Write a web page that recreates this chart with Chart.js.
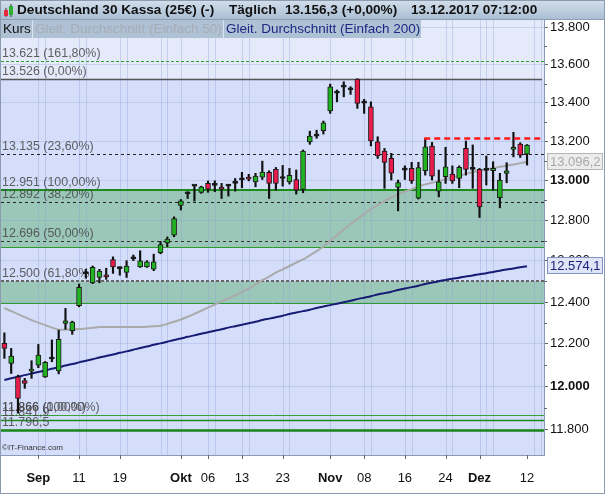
<!DOCTYPE html>
<html lang="de">
<head>
<meta charset="UTF-8">
<title>Deutschland 30 Kassa - Täglich</title>
<script src="https://cdn.jsdelivr.net/npm/chart.js"></script>
<style>
  body { margin: 0; background: #fff; }
  canvas { display: block; }
</style>
</head>
<body>
<canvas id="dax" width="605" height="494"></canvas>
<script>
// trading days 25.08.-14.12.2017 (last two slots stay empty)
const days = ['25.08','28.08','29.08','30.08','31.08',
  '01.09','04.09','05.09','06.09','07.09','08.09','11.09','12.09','13.09','14.09','15.09',
  '18.09','19.09','20.09','21.09','22.09','25.09','26.09','27.09','28.09','29.09',
  '02.10','03.10','04.10','05.10','06.10','09.10','10.10','11.10','12.10','13.10',
  '16.10','17.10','18.10','19.10','20.10','23.10','24.10','25.10','26.10','27.10','30.10','31.10',
  '01.11','02.11','03.11','06.11','07.11','08.11','09.11','10.11','13.11','14.11','15.11','16.11','17.11',
  '20.11','21.11','22.11','23.11','24.11','27.11','28.11','29.11','30.11',
  '01.12','04.12','05.12','06.12','07.12','08.12','11.12','12.12','13.12','14.12'];

const opens = [12202,12107,12044,12027,12071,12099,12044,12128,12072,12297,
  12262,12382,12537,12493,12519,12530,12607,12562,12544,12610,
  12571,12571,12559,12640,12688,12727,12875,12934,12972,12941,
  12986,12976,12967,12972,12986,13004,13018,12994,13018,13042,
  13057,13015,12994,13006,12956,13198,13227,13255,13358,13450,
  13482,13468,13524,13398,13379,13198,13150,13113,12966,13053,
  13062,12912,13050,13176,12947,13020,13033,13011,13164,13061,
  13057,13052,13050,12914,13037,13159,13186,13135];
const highs = [12252,12178,12052,12037,12120,12197,12116,12218,12265,12369,
  12308,12487,12559,12575,12559,12564,12620,12571,12601,12629,
  12650,12601,12633,12696,12718,12818,12905,12944,12976,12972,
  12998,12999,12986,12981,13011,13042,13032,13037,13099,13050,
  13067,13077,13062,13054,13156,13253,13258,13305,13498,13467,
  13510,13484,13526,13418,13405,13224,13164,13139,13003,13075,
  13093,13093,13215,13195,13054,13170,13075,13075,13202,13182,
  13062,13125,13096,13037,13091,13247,13193,13184];
const lows = [12131,12060,11875,11990,12037,12087,12041,12115,12058,12269,
  12245,12377,12515,12489,12493,12510,12539,12530,12519,12601,
  12568,12568,12552,12635,12670,12719,12852,12910,12897,12936,
  12941,12944,12910,12922,12947,12964,12999,12969,13006,12910,
  12952,12972,12983,12932,12939,13185,13216,13238,13345,13405,
  13431,13444,13371,13345,13177,13113,12961,13003,12848,13006,
  12986,12907,13028,13003,12918,12986,12986,12964,13028,12961,
  12815,12978,12952,12863,12989,13121,13118,13079];
const closes = [12178,12142,11943,12013,12078,12146,12112,12133,12221,12310,
  12304,12471,12541,12568,12550,12522,12571,12566,12575,12614,
  12601,12596,12596,12680,12707,12810,12898,12938,12975,12969,
  12957,12980,12957,12975,12991,13008,13008,13023,13043,12986,
  12986,13011,13027,12952,13150,13227,13231,13296,13484,13454,
  13486,13472,13397,13402,13202,13126,13093,13038,12990,13057,
  12998,13066,13172,13023,12994,13070,12999,13067,13057,13057,
  12868,13056,13062,13003,13050,13169,13130,13181];

// Gleitender Durchschnitt 50 / 200
const ma50 = [12371,12356,12342,12327,12313,12301,12289,12277,12267,12268,
  12268,12270,12273,12276,12280,12280,12280,12280,12280,12280,
  12280,12281,12283,12286,12295,12305,12316,12329,12343,12358,
  12373,12388,12403,12417,12432,12448,12465,12485,12506,12523,
  12543,12559,12575,12592,12607,12627,12648,12671,12700,12727,
  12755,12782,12807,12832,12857,12877,12897,12915,12930,12945,
  12957,12971,12981,12989,12998,13007,13016,13025,13034,13044,
  13050,13057,13063,13070,13076,13082,13089,13096.2];
const ma200 = [12029,12037,12044,12052,12059,12067,12074,12082,12089,12097,
  12104,12112,12120,12127,12135,12142,12149,12157,12164,12172,
  12180,12187,12195,12202,12210,12218,12225,12233,12240,12248,
  12255,12262,12269,12277,12284,12291,12298,12305,12313,12320,
  12327,12334,12342,12349,12356,12363,12371,12378,12385,12392,
  12399,12406,12414,12421,12428,12436,12443,12450,12458,12465,
  12472,12479,12487,12494,12501,12507,12513,12518,12524,12529,
  12535,12540,12546,12552,12558,12563,12569,12574.1];

// y axis
const yTicks = [11800,12000,12200,12400,12600,12800,13000,13200,13400,13600,13800];
const yBold = [12000,13000];
const yMin = 11683, yMax = 13839;

// x axis labels
const xTickDays = ['01.09','11.09','19.09','02.10','06.10','13.10','23.10','01.11','08.11','16.11','24.11','01.12','12.12'];
const xTickText = ['Sep','11','19','Okt','06','13','23','Nov','08','16','24','Dez','12'];
const gridDays = ['01.09','04.09','11.09','12.09','19.09','20.09','27.09','28.09','02.10','06.10','09.10',
  '13.10','16.10','23.10','24.10','01.11','08.11','09.11','16.11','17.11','24.11','27.11',
  '01.12','04.12','05.12','13.12','14.12'];

// Fibonacci / Linien
const levelVals = [13621, 13526, 13135, 12951, 12892, 12696, 12666, 12500, 12393, 11866, 11842, 11796.5];
const levelText = ['13.621 (161,80%)','13.526 (0,00%)','13.135 (23,60%)','12.951 (100,00%)','12.892 (38,20%)',
  '12.696 (50,00%)','','12.500 (61,80%)','','11.866 (0,00%)','11.841,9','11.796,5'];
const extraText = [[11866, '11.866 (100,00%)']];
const zoneTop = [12951, 12500];
const zoneBottom = [12666, 12393];
const resistVal = 13215, resistFrom = '21.11';

const header = ['Deutschland 30 Kassa (25€) (-)', 'Täglich', '13.156,3 (+0,00%)', '13.12.2017 07:12:00'];
const legendText = ['Kurs', 'Gleit. Durchschnitt (Einfach 50)', 'Gleit. Durchschnitt (Einfach 200)'];

// ---- styles ----
const FONT = '"Liberation Sans", Arial, sans-serif';
const levelStyle = [
  ['#2e9e2e', 1, [3, 2]], ['#555', 1.5, []], ['#222', 1, [3, 3]], ['#1d8c1d', 2, []],
  ['#222', 1, [3, 3]], ['#333', 1, [3, 3]], ['#2f9a2f', 1, []], ['#666', 2, [3, 2]],
  ['#2f9a2f', 1, []], ['#3aa03a', 1, []], ['#1d8c1d', 1.5, []], ['#1a861a', 2.5, []]
];

function fmtThousand(v, dec) {
  const s = v.toFixed(dec);
  const parts = s.split('.');
  const int = parts[0];
  const withDots = int.length > 3 ? int.slice(0, int.length - 3) + '.' + int.slice(-3) : int;
  return dec ? withDots + ',' + parts[1] : withDots;
}

const bodies = opens.map((o, i) => [Math.min(o, closes[i]), Math.max(o, closes[i])]);
const wicks = lows.map((l, i) => [l, highs[i]]);
const bodyColor = opens.map((o, i) => Math.abs(closes[i] - o) <= 5 ? '#111'
  : (closes[i] > o ? 'rgb(34,178,34)' : 'rgb(234,26,76)'));

const chartDeco = {
  id: 'chartDeco',
  beforeDraw(chart) {
    const ctx = chart.ctx, a = chart.chartArea, ys = chart.scales.y, xs = chart.scales.x;
    const Y = v => ys.getPixelForValue(v);
    ctx.save();
    ctx.fillStyle = '#fff';
    ctx.fillRect(0, 0, chart.width, chart.height);
    ctx.fillStyle = 'rgb(212,222,250)';
    ctx.fillRect(a.left, a.top, a.width, a.height);
    ctx.fillStyle = 'rgb(229,234,250)';
    ctx.fillRect(a.left, a.top, a.width, Y(13526) - a.top);
    ctx.fillStyle = 'rgb(155,199,184)';
    zoneTop.forEach((t, i) => ctx.fillRect(a.left, Y(t), a.width, Y(zoneBottom[i]) - Y(t)));
    // vertical grid
    ctx.strokeStyle = 'rgba(140,158,210,0.35)';
    ctx.lineWidth = 1;
    gridDays.forEach(d => {
      const px = Math.round(xs.getPixelForValue(days.indexOf(d))) + 0.5;
      ctx.beginPath(); ctx.moveTo(px, a.top); ctx.lineTo(px, a.bottom); ctx.stroke();
    });
    ctx.restore();
  },
  beforeDatasetsDraw(chart) {
    const ctx = chart.ctx, a = chart.chartArea, ys = chart.scales.y;
    ctx.save();
    levelVals.forEach((v, i) => {
      const [col, w, dash] = levelStyle[i];
      const py = Math.round(ys.getPixelForValue(v)) + (w % 2 ? 0.5 : 0);
      ctx.strokeStyle = col; ctx.lineWidth = w; ctx.setLineDash(dash);
      ctx.beginPath(); ctx.moveTo(a.left, py); ctx.lineTo(i === 1 ? a.right - 2 : a.right, py); ctx.stroke();
    });
    ctx.setLineDash([]);
    ctx.font = '12.4px ' + FONT;
    ctx.fillStyle = 'rgba(70,70,70,0.85)';
    ctx.textBaseline = 'alphabetic';
    levelVals.forEach((v, i) => {
      if (levelText[i]) ctx.fillText(levelText[i], a.left + 1, ys.getPixelForValue(v) - 4);
    });
    extraText.forEach(([v, t]) => ctx.fillText(t, a.left + 1, ys.getPixelForValue(v) - 4));
    ctx.restore();
  },
  afterDatasetsDraw(chart) {
    const ctx = chart.ctx, a = chart.chartArea, ys = chart.scales.y, xs = chart.scales.x;
    ctx.save();
    ctx.strokeStyle = '#ff1a1a'; ctx.lineWidth = 2.5; ctx.setLineDash([6, 4]);
    const py = ys.getPixelForValue(resistVal);
    ctx.beginPath(); ctx.moveTo(xs.getPixelForValue(days.indexOf(resistFrom)) - 1, py); ctx.lineTo(a.right - 1, py); ctx.stroke();
    ctx.restore();
  },
  afterDraw(chart) {
    const ctx = chart.ctx, a = chart.chartArea, ys = chart.scales.y, xs = chart.scales.x;
    const W = chart.width, H = chart.height;
    ctx.save();
    // minor y ticks
    ctx.strokeStyle = '#666'; ctx.lineWidth = 1;
    for (let k = 0; k < yTicks.length - 1; k++) {
      const py = Math.round(ys.getPixelForValue((yTicks[k] + yTicks[k + 1]) / 2)) + 0.5;
      ctx.beginPath(); ctx.moveTo(a.right, py); ctx.lineTo(a.right + 3, py); ctx.stroke();
    }
    // x tick marks
    xTickDays.forEach(d => {
      const px = Math.round(xs.getPixelForValue(days.indexOf(d))) + 0.5;
      ctx.beginPath(); ctx.moveTo(px, a.bottom); ctx.lineTo(px, a.bottom + 4); ctx.stroke();
    });
    // header bar
    const g = ctx.createLinearGradient(0, 0, 0, 20);
    g.addColorStop(0, '#d3dfeb'); g.addColorStop(1, '#a8bdd3');
    ctx.fillStyle = g; ctx.fillRect(0, 0, W, 20);
    ctx.strokeStyle = '#8e9fb3'; ctx.beginPath(); ctx.moveTo(0, 19.5); ctx.lineTo(W, 19.5); ctx.stroke();
    // icon
    ctx.strokeStyle = '#333'; ctx.lineWidth = 1;
    ctx.beginPath(); ctx.moveTo(6, 8); ctx.lineTo(6, 17); ctx.moveTo(11, 4); ctx.lineTo(11, 17); ctx.stroke();
    ctx.fillStyle = '#e8283c'; ctx.fillRect(4, 10, 4, 6);
    ctx.fillStyle = '#2fb12f'; ctx.fillRect(9, 6, 4, 9);
    ctx.font = 'bold 13.6px ' + FONT; ctx.fillStyle = '#111'; ctx.textBaseline = 'middle';
    const hx = [17, 229, 285, 411];
    header.forEach((t, i) => ctx.fillText(t, hx[i], 10.5));
    // legend row
    ctx.fillStyle = 'rgba(172,191,211,0.95)';
    ctx.fillRect(0, 20, 421, 18);
    ctx.strokeStyle = '#dce5ee';
    ctx.beginPath(); ctx.moveTo(32.5, 20); ctx.lineTo(32.5, 38); ctx.moveTo(223.5, 20); ctx.lineTo(223.5, 38); ctx.stroke();
    ctx.font = '13.5px ' + FONT;
    const lx = [3, 35, 226], lc = ['#111', '#a6adb5', '#1b2a82'];
    legendText.forEach((t, i) => { ctx.fillStyle = lc[i]; ctx.fillText(t, lx[i], 29.5); });
    // value boxes
    const boxes = [[ma50[ma50.length - 1], '#ececec', '#b5b5b5', '#a9a9a9'],
                   [ma200[ma200.length - 1], '#dfe5f7', '#8193c4', '#1a237e']];
    boxes.forEach(([v, bg, bd, fg]) => {
      const py = Math.round(ys.getPixelForValue(v));
      ctx.fillStyle = bg; ctx.fillRect(547.5, py - 8.5, 55, 16);
      ctx.strokeStyle = bd; ctx.strokeRect(547.5, py - 8.5, 55, 16);
      ctx.fillStyle = fg; ctx.font = '13px ' + FONT; ctx.textBaseline = 'middle';
      ctx.fillText(fmtThousand(v, 1), 550, py);
    });
    // copyright
    ctx.font = '8px ' + FONT; ctx.fillStyle = '#333'; ctx.textBaseline = 'alphabetic';
    ctx.fillText('©IT-Finance.com', a.left + 1, a.bottom - 5);
    // frame
    ctx.strokeStyle = '#8c9bb0'; ctx.lineWidth = 1;
    ctx.strokeRect(0.5, 0.5, W - 1, H - 1);
    ctx.restore();
  }
};

new Chart(document.getElementById('dax'), {
  type: 'bar',
  data: {
    labels: days,
    datasets: [
      { type: 'bar', label: 'Kurs', data: bodies, backgroundColor: bodyColor, borderColor: '#1b1b1b',
        borderWidth: 1, borderSkipped: false, barThickness: 5, minBarLength: 2, grouped: false, order: 0 },
      { type: 'bar', label: 'Docht', data: wicks, backgroundColor: '#111', borderWidth: 0,
        barThickness: 1.5, grouped: false, order: 1 },
      { type: 'line', label: legendText[1], data: ma50, borderColor: '#aaaaaa', borderWidth: 2,
        pointRadius: 0, tension: 0.3, order: 2 },
      { type: 'line', label: legendText[2], data: ma200, borderColor: '#161c74', borderWidth: 2,
        pointRadius: 0, tension: 0.3, order: 3 }
    ]
  },
  options: {
    responsive: false,
    animation: false,
    layout: { padding: { top: 20, left: 1, right: 0, bottom: 0 } },
    plugins: { legend: { display: false }, tooltip: { enabled: false } },
    scales: {
      x: {
        grid: { display: false, drawTicks: false },
        border: { display: true, color: '#8c9bb5' },
        ticks: {
          autoSkip: false, maxRotation: 0, padding: 16, color: '#111',
          callback: (v, i) => {
            const k = xTickDays.indexOf(days[i]);
            return k >= 0 ? xTickText[k] : '';
          },
          font: (c) => {
            const k = xTickDays.indexOf(days[c.index]);
            return { family: FONT, size: 13, weight: (k >= 0 && /[A-Za-z]/.test(xTickText[k])) ? 'bold' : 'normal' };
          }
        },
        afterFit: (s) => { s.height = 39; s.paddingLeft = 0; s.paddingRight = 0; }
      },
      y: {
        type: 'logarithmic',
        position: 'right',
        min: yMin, max: yMax,
        afterBuildTicks: (s) => { s.ticks = yTicks.map(v => ({ value: v })); },
        grid: { color: 'rgba(140,158,210,0.3)', drawTicks: true, tickLength: 4, tickColor: '#666' },
        border: { display: true, color: '#8c9bb5' },
        ticks: {
          padding: 2, color: '#111',
          callback: (v) => fmtThousand(v, 0),
          font: (c) => ({ family: FONT, size: 13,
            weight: (c.tick && yBold.includes(c.tick.value)) ? 'bold' : 'normal' })
        },
        afterFit: (s) => { s.width = 61; s.paddingTop = 0; s.paddingBottom = 0; }
      }
    }
  },
  plugins: [chartDeco]
});
</script>
</body>
</html>
